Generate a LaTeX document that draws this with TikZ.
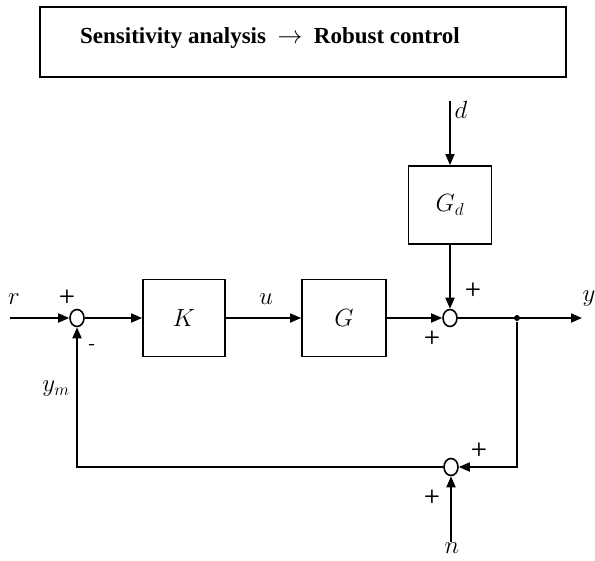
\documentclass[tikz,border=0pt]{standalone}
\usepackage{fontspec}
\newfontfamily\titlefont{Liberation Serif}
\usetikzlibrary{arrows.meta,shapes.geometric}
\begin{document}
\begin{tikzpicture}[x=1pt,y=-1pt,line width=1.8pt,
  >={Triangle[length=11pt,width=9pt]},
  blockbox/.style={draw,line width=1.8pt,minimum width=82pt,minimum height=77pt,inner sep=0pt,font=\fontsize{24}{28}\selectfont},
  sumnode/.style={draw,ellipse,line width=1.6pt,minimum width=14pt,minimum height=17pt,inner sep=0pt},
  lbl/.style={inner sep=0pt,font=\fontsize{24}{28}\selectfont},
  sgn/.style={inner sep=0pt,font=\sffamily\bfseries\fontsize{19}{22}\selectfont},
  dotnode/.style={circle,fill,minimum size=6pt,inner sep=0pt}]
\useasboundingbox (0,0) rectangle (595,561);
% title
\node[draw,line width=1.6pt,minimum width=526pt,minimum height=70pt,inner sep=0pt] (titlebox) at (303,42) {};
\node[inner sep=0pt,font=\titlefont\bfseries\fontsize{23}{27}\selectfont] (titletext) at (270,38) {Sensitivity analysis\enskip$\rightarrow$\enskip Robust control};
% blocks
\node[blockbox] (K) at (184,318) {$K$};
\node[blockbox,minimum width=84pt] (G) at (344,318) {$G$};
\node[blockbox,minimum width=83pt,minimum height=78pt] (Gd) at (450,205) {$G_d$};
\node[sumnode] (s1) at (77,318) {};
\node[sumnode] (s2) at (450,318) {};
\node[sumnode] (s3) at (451,467) {};
\node[dotnode] (br) at (517,318) {};
\coordinate (rin) at (10,318);
\coordinate (yout) at (582,318);
\coordinate (din) at (450,101);
\coordinate (nin) at (451,542);
\coordinate (c1) at (517,467);
\coordinate (c2) at (77,467);
% labels
\node[lbl] (rl) at (14,299) {$r$};
\node[lbl] (ul) at (266,299) {$u$};
\node[lbl] (yl) at (589,299) {$y$};
\node[lbl] (dl) at (461,110) {$d$};
\node[lbl] (nl) at (452,548) {$n$};
\node[lbl] (yml) at (56,389) {$y_m$};
\node[sgn] (p1) at (67,297) {+};
\node[sgn] (m1) at (92,347) {-};
\node[sgn] (p2) at (432,338) {+};
\node[sgn] (p3) at (473,290) {+};
\node[sgn] (p4) at (479,450) {+};
\node[sgn] (p5) at (432,497) {+};
% connectors
\draw[->] (rin) -- (s1);
\draw[->] (s1) -- (K);
\draw[->] (K) -- (G);
\draw[->] (G) -- (s2);
\draw[->] (din) -- (Gd);
\draw[->] (Gd) -- (s2);
\draw[->] (s2) -- (yout);
\draw[->] (br) -- (c1) -- (s3);
\draw[->] (nin) -- (s3);
\draw[->] (s3) -- (c2) -- (s1);
\end{tikzpicture}
\end{document}
